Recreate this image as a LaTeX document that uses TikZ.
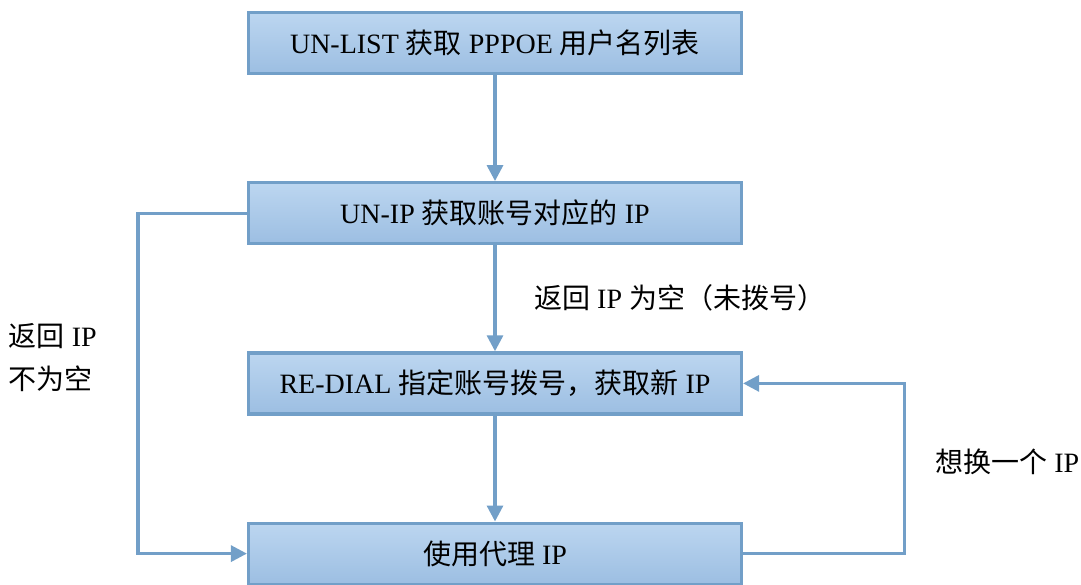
\documentclass[tikz,border=0pt]{standalone}
\usepackage{fontspec}
\setmainfont{Liberation Serif}
\newfontfamily\cjk{Noto Sans CJK SC}
\newcommand{\zh}[1]{{\cjk #1}}
\usepackage{tikz}
\usetikzlibrary{arrows.meta,positioning,calc}
\definecolor{linec}{RGB}{114,159,200}
\definecolor{boxtop}{RGB}{188,214,240}
\definecolor{boxbot}{RGB}{156,190,226}

\begin{document}
\begin{tikzpicture}
[node distance=106pt, >={Triangle[length=16pt,width=16pt]},
box/.style =
{draw=linec, line width=3.2pt, top color=boxtop, bottom color=boxbot,
minimum width=493pt, minimum height=61pt, inner sep=0pt,
font=\fontsize{28}{32}\selectfont},
line/.style = {draw=linec, line width=3.2pt},
note/.style = {inner sep=0pt, font=\fontsize{28}{43}\selectfont}]
\useasboundingbox (0,0) rectangle (1081pt,-585pt);

\node [box] (1) at (495pt,-43pt) {UN-LIST \zh{获取} PPPOE \zh{用户名列表}};
\node [box, below=of 1] (2) {UN-IP \zh{获取账号对应的} IP};
\node [box, below=of 2] (3) {RE-DIAL \zh{指定账号拨号，获取新} IP};
\node [box, below=of 3] (4) {\zh{使用代理} IP};

\draw[line,->] (1.south) -- (2.north);
\draw[line,->] (2.south) -- (3.north);
\draw[line,->] (3.south) -- (4.north);

\draw[line,->] (2.west) -- ++(-109pt,0) |- (4.west);
\draw[line,->] (4.east) -- ++(161pt,0) |- (3.east);

\node [note, anchor=west] (empty) at ($(2.south)!0.5!(3.north)+(39pt,0)$)
{\zh{返回} IP \zh{为空（未拨号）}};
\node [note, anchor=east, align=left] (notempty) at ($(2.west)!0.5!(4.west)+(-150pt,26pt)$)
{\zh{返回} IP\\\zh{不为空}};
\node [note, anchor=west] (change) at ($(3.east)!0.5!(4.east)+(192pt,7pt)$)
{\zh{想换一个} IP};
\end{tikzpicture}
\end{document}
